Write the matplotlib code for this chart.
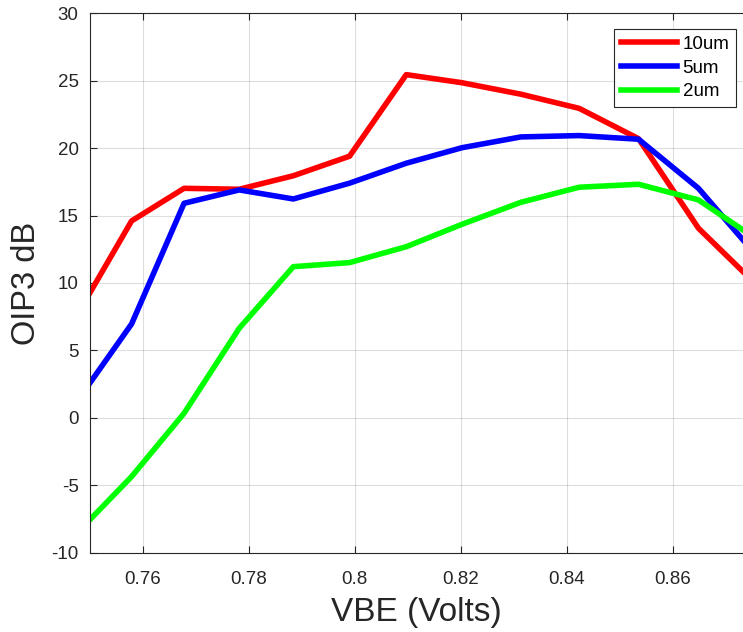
import matplotlib
matplotlib.use("Agg")
import matplotlib.pyplot as plt

vbe = [0.750, 0.7579, 0.7678, 0.7782, 0.7884, 0.7990, 0.8097, 0.8202,
       0.8313, 0.8423, 0.8535, 0.8648, 0.8732]
oip3_10um = [9.24, 14.6, 17.02, 16.95, 17.95, 19.4, 25.45, 24.85,
             24.0, 22.95, 20.7, 14.06, 10.84]
oip3_5um = [2.56, 6.96, 15.91, 16.9, 16.23, 17.4, 18.88, 20.03,
            20.83, 20.93, 20.66, 17.02, 13.19]
oip3_2um = [-7.57, -4.36, 0.34, 6.64, 11.21, 11.51, 12.69, 14.35,
            15.98, 17.1, 17.32, 16.16, 13.93]

xticks = [0.76, 0.78, 0.80, 0.82, 0.84, 0.86]
xticklabels = ["0.76", "0.78", "0.8", "0.82", "0.84", "0.86"]
yticks = [-10, -5, 0, 5, 10, 15, 20, 25, 30]
series_names = ["10um", "5um", "2um"]

plt.rcParams['font.family'] = ['Liberation Sans', 'DejaVu Sans']
plt.rcParams['axes.unicode_minus'] = False

fig = plt.figure(figsize=(7.43, 6.32), dpi=100)
ax = fig.add_axes([0.1207, 0.1255, 0.8793, 0.8535])

dark = (0.15, 0.15, 0.15)
lw = 4.0
ax.plot(vbe, oip3_10um, color=(1, 0, 0), lw=lw, label=series_names[0])
ax.plot(vbe, oip3_5um, color=(0, 0, 1), lw=lw, label=series_names[1])
ax.plot(vbe, oip3_2um, color=(0, 1, 0), lw=lw, label=series_names[2])

ax.set_xlim(0.75, 0.8732)
ax.set_ylim(-10, 30)
ax.set_xticks(xticks)
ax.set_xticklabels(xticklabels)
ax.set_yticks(yticks)
ax.set_yticklabels([str(v) for v in yticks])

ax.grid(True, color=(0.15, 0.15, 0.15), alpha=0.15, lw=0.8)
ax.set_axisbelow(True)
ax.tick_params(direction='in', length=5, width=0.8, colors=dark,
               labelsize=13.5, top=True, right=False)
ax.tick_params(axis='x', pad=13)
ax.tick_params(axis='y', pad=8)
for s in ['left', 'bottom', 'top']:
    ax.spines[s].set_color(dark)
    ax.spines[s].set_linewidth(0.8)
ax.spines['right'].set_visible(False)

ax.set_xlabel("VBE (Volts)", fontsize=24, color=dark, labelpad=7)
ax.set_ylabel("OIP3 dB", fontsize=23.5, color=dark, labelpad=7)

leg = ax.legend(loc='upper right', bbox_to_anchor=(0.9893, 0.9709), fontsize=13.5,
                fancybox=False, framealpha=1, edgecolor=dark,
                handlelength=3.0, handletextpad=0.3, borderpad=0.35,
                labelspacing=0.36, borderaxespad=0)
leg.get_frame().set_linewidth(0.8)

fig.savefig("out.png", dpi=100)
